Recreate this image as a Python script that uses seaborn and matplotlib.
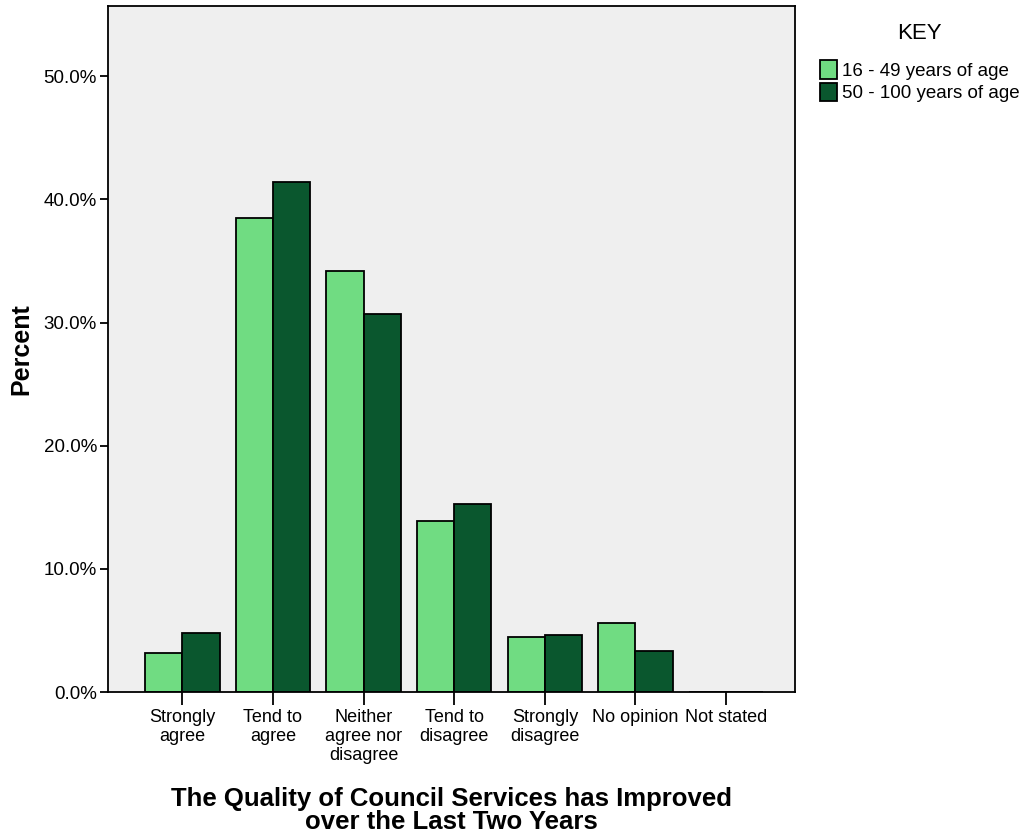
import pandas as pd
import seaborn as sns
import matplotlib.pyplot as plt
from matplotlib.ticker import FuncFormatter

categories = ["Strongly\nagree", "Tend to\nagree", "Neither\nagree nor\ndisagree",
              "Tend to\ndisagree", "Strongly\ndisagree", "No opinion", "Not stated"]
age_groups = ["16 - 49 years of age", "50 - 100 years of age"]
young = [3.2, 38.5, 34.2, 13.9, 4.5, 5.6, 0.0]
older = [4.8, 41.4, 30.7, 15.3, 4.6, 3.3, 0.0]

df = pd.DataFrame({
    "answer": categories * 2,
    "group": [age_groups[0]] * len(categories) + [age_groups[1]] * len(categories),
    "percent": young + older,
})

sns.set_style("white")
plt.rcParams["font.family"] = ["Liberation Sans", "DejaVu Sans"]
plt.rcParams["text.color"] = "black"
plt.rcParams["axes.labelcolor"] = "black"
plt.rcParams["xtick.color"] = "black"
plt.rcParams["ytick.color"] = "black"

fig = plt.figure(figsize=(10.3, 8.36), dpi=100)
ax = fig.add_axes([0.1049, 0.1722, 0.6669, 0.8206])
ax.set_facecolor("#efefef")

palette = {age_groups[0]: "#70dc82", age_groups[1]: "#0a572e"}
sns.barplot(data=df, x="answer", y="percent", hue="group", order=categories,
            hue_order=age_groups, palette=palette, width=0.82,
            edgecolor="black", linewidth=1.3, saturation=1, ax=ax)

ax.set_xlim(-0.82, 6.76)
ax.set_ylim(0, 55.7)
ax.set_yticks([0, 10, 20, 30, 40, 50])
ax.yaxis.set_major_formatter(FuncFormatter(lambda v, _: f"{v:.1f}%"))

for s in ax.spines.values():
    s.set_color("black")
    s.set_linewidth(1.3)

ax.tick_params(axis="x", bottom=True, length=9, width=1.3, labelsize=13, pad=3)
ax.tick_params(axis="y", left=True, length=6, width=1.3, labelsize=13.5, pad=2)
for t in ax.get_xticklabels():
    t.set_linespacing(1.15)

ax.set_xlabel("The Quality of Council Services has Improved\nover the Last Two Years",
              fontsize=18.5, fontweight="bold", labelpad=17, linespacing=0.95)
ax.set_ylabel("Percent", fontsize=18, fontweight="bold", labelpad=7)

handles, labels = ax.get_legend_handles_labels()
ax.legend_.remove()
leg = fig.legend(handles, labels, title="KEY", loc="upper left",
                 bbox_to_anchor=(0.789, 0.982), frameon=False, fontsize=13.5,
                 title_fontsize=16, handlelength=0.9, handleheight=1.15,
                 handletextpad=0.25, labelspacing=0.15, borderaxespad=0)
leg._legend_box.align = "center"
leg._legend_box.sep = 12

fig.savefig("out.png", dpi=100)
